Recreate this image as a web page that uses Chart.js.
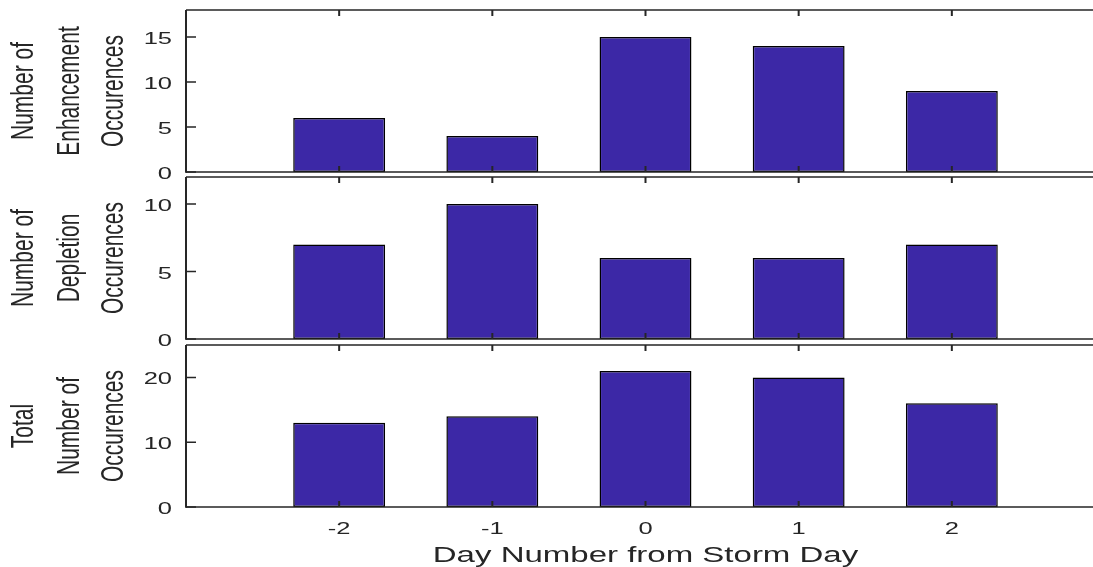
<!DOCTYPE html>
<html><head><meta charset="utf-8">
<script src="https://cdn.jsdelivr.net/npm/chart.js@4"></script>
<style>
html,body{margin:0;padding:0;overflow:hidden;background:#fff;width:1093px;height:567px}
canvas{position:absolute;left:0;top:0}
</style></head>
<body>
<canvas id="c1" width="1120" height="567"></canvas>
<canvas id="c2" width="1120" height="567"></canvas>
<canvas id="c3" width="1120" height="567"></canvas>
<script>
const days = [-2, -1, 0, 1, 2];
const enhancement = [6, 4, 15, 14, 9];
const depletion = [7, 10, 6, 6, 7];
const total = [13, 14, 21, 20, 16];
const xTicks = [-2, -1, 0, 1, 2];
const yTicksEnh = [0, 5, 10, 15];
const yTicksDep = [0, 5, 10];
const yTicksTot = [0, 10, 20];
const titleEnh = ['Number of', 'Enhancement', 'Occurences'];
const titleDep = ['Number of', 'Depletion', 'Occurences'];
const titleTot = ['Total', 'Number of', 'Occurences'];
const xTitle = 'Day Number from Storm Day';

const TXT = '#262626';
const AX = '#262626';
const STRETCH = 1.5;
const FONT = 'Liberation Sans, Arial, Helvetica, sans-serif';

function sText(ctx, text, x, y, align, font) {
  ctx.save();
  ctx.translate(x, y);
  ctx.scale(STRETCH, 1);
  ctx.font = font;
  ctx.fillStyle = TXT;
  ctx.textAlign = align;
  ctx.textBaseline = 'alphabetic';
  ctx.fillText(text, 0, 0);
  ctx.restore();
}

const panelPlugin = {
  id: 'panel',
  afterDatasetsDraw(chart, args, opts) {
    const ctx = chart.ctx;
    const a = chart.chartArea;
    const xs = chart.scales.x, ys = chart.scales.y;
    ctx.save();
    ctx.strokeStyle = AX;
    ctx.lineWidth = 1.5;
    ctx.beginPath();
    ctx.moveTo(a.left, a.top); ctx.lineTo(a.right, a.top);
    ctx.moveTo(a.left, a.bottom); ctx.lineTo(a.right, a.bottom);
    ctx.stroke();
    ctx.lineWidth = 2;
    ctx.beginPath();
    ctx.moveTo(a.left, a.top); ctx.lineTo(a.left, a.bottom + 0.75);
    ctx.stroke();
    ctx.lineWidth = 2;
    ctx.beginPath();
    xTicks.forEach(v => {
      const px = xs.getPixelForValue(v);
      ctx.moveTo(px, a.bottom); ctx.lineTo(px, a.bottom - 6);
      ctx.moveTo(px, a.top); ctx.lineTo(px, a.top + 6);
    });
    ctx.stroke();
    ctx.lineWidth = 1.5;
    ctx.beginPath();
    ys.ticks.forEach(t => {
      const py = ys.getPixelForValue(t.value);
      ctx.moveTo(a.left, py); ctx.lineTo(a.left + 10, py);
    });
    ctx.stroke();
    ctx.restore();
    ys.ticks.forEach(t => {
      const py = ys.getPixelForValue(t.value);
      sText(ctx, String(t.value), a.left - 14, py + 7, 'right', '17px ' + FONT);
    });
    const cy = (a.top + a.bottom) / 2;
    const bases = [33, 79, 123];
    opts.title.forEach((line, i) => {
      ctx.save();
      ctx.translate(bases[i], cy);
      ctx.scale(STRETCH, 1);
      ctx.rotate(-Math.PI / 2);
      ctx.font = '21px ' + FONT;
      ctx.fillStyle = TXT;
      ctx.textAlign = 'center';
      ctx.textBaseline = 'alphabetic';
      ctx.fillText(line, 0, 0);
      ctx.restore();
    });
    if (opts.showX) {
      xTicks.forEach(v => {
        const px = xs.getPixelForValue(v);
        sText(ctx, String(v), px, a.bottom + 27, 'center', '17px ' + FONT);
      });
      sText(ctx, xTitle, xs.getPixelForValue(0), a.bottom + 55, 'center', '22px ' + FONT);
    }
  }
};

function makePanel(id, values, yMax, yTicks, title, top, bottom, showX) {
  return new Chart(document.getElementById(id), {
    type: 'bar',
    data: {
      datasets: [{
        data: days.map((d, i) => ({ x: d, y: values[i] })),
        backgroundColor: '#3C28A6',
        borderColor: '#000000',
        borderWidth: 1.5,
        borderSkipped: false,
        barPercentage: 0.6,
        categoryPercentage: 1.0
      }]
    },
    options: {
      responsive: false,
      animation: false,
      events: [],
      layout: { padding: { left: 186, right: 15, top: top, bottom: 567 - bottom } },
      plugins: {
        legend: { display: false },
        tooltip: { enabled: false },
        panel: { title: title, showX: showX }
      },
      scales: {
        x: {
          type: 'linear', min: -3, max: 3, offset: false, display: false,
          ticks: { stepSize: 1 }
        },
        y: {
          min: 0, max: yMax, display: false,
          afterBuildTicks: s => { s.ticks = yTicks.map(v => ({ value: v })); }
        }
      }
    },
    plugins: [panelPlugin]
  });
}

makePanel('c1', enhancement, 18, yTicksEnh, titleEnh, 10, 172, false);
makePanel('c2', depletion, 12, yTicksDep, titleDep, 177, 339, false);
makePanel('c3', total, 25, yTicksTot, titleTot, 345, 507, true);
</script>
</body></html>
